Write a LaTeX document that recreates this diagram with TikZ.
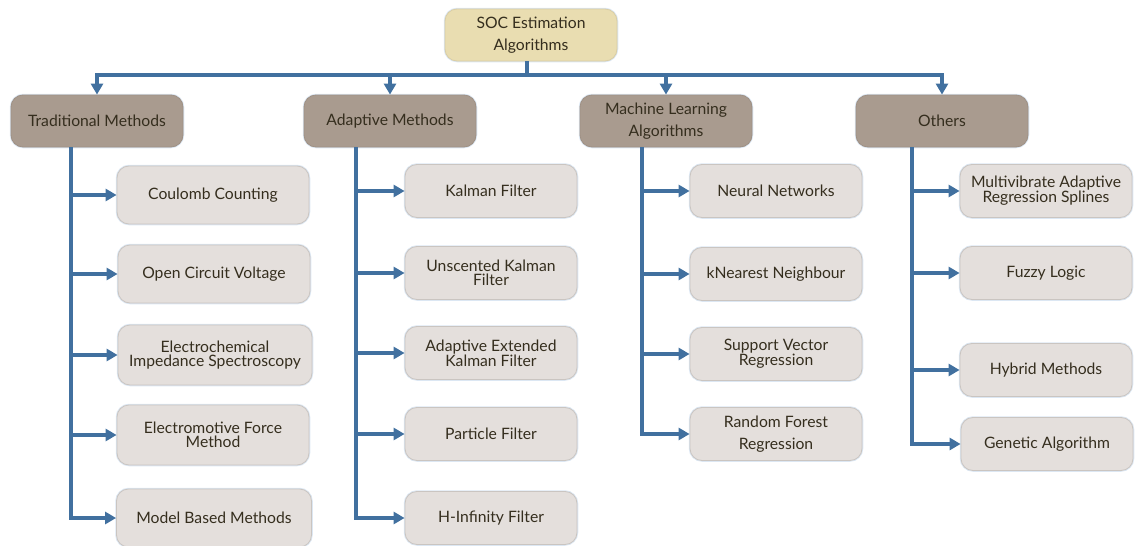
\documentclass[tikz,border=0pt]{standalone}
\usepackage{fontspec}
\setmainfont{Lato}
\usetikzlibrary{arrows.meta}
\definecolor{rootfill}{HTML}{E9DDB1}
\definecolor{rootline}{HTML}{D9CDA5}
\definecolor{catfill}{HTML}{A99B8F}
\definecolor{catline}{HTML}{9E9084}
\definecolor{leaffill}{HTML}{E4DFDC}
\definecolor{leafline}{HTML}{CAC5C1}
\definecolor{txt}{HTML}{352E1E}
\definecolor{link}{HTML}{41709F}
\definecolor{glow}{HTML}{DCE7F3}
\tikzset{
  base/.style={rounded corners=12pt, align=center, text=txt, inner sep=2pt,
    font=\fontsize{15.7}{22}\selectfont,
    preaction={draw=glow, line width=2.5pt}},
  tight/.style={font=\fontsize{15.7}{14}\selectfont},
  rootbox/.style={base, fill=rootfill, draw=rootline, line width=0.8pt, minimum width=172pt, minimum height=52pt},
  catbox/.style={base, fill=catfill, draw=catline, line width=0.8pt, minimum width=172pt, minimum height=52pt},
  leafbox/.style={base, fill=leaffill, draw=leafline, line width=0.8pt, minimum width=172pt, minimum height=53pt},
  bigleaf/.style={leafbox, minimum width=192pt, minimum height=58pt},
  lnk/.style={draw=link, line width=3.5pt},
  arr/.style={lnk, -{Triangle[length=11pt, width=12pt]}, shorten >=0pt}
}
\begin{document}
\begin{tikzpicture}[x=1pt, y=1pt]
\useasboundingbox (0,0) rectangle (1136,-546);

% root
\node[rootbox] (root) at (531,-35) {SOC Estimation\\Algorithms};

% categories
\node[catbox] (c1) at (97,-121) {Traditional Methods};
\node[catbox] (c2) at (390,-121) {Adaptive Methods};
\node[catbox] (c3) at (666,-121) {Machine Learning\\Algorithms};
\node[catbox] (c4) at (942,-121) {Others};

% leaves: traditional
\node[bigleaf] (t1) at (213,-195) {Coulomb Counting};
\node[bigleaf] (t2) at (214,-274) {Open Circuit Voltage};
\node[bigleaf, tight, minimum width=194pt, minimum height=60pt] (t3) at (215,-355) {Electrochemical\\Impedance Spectroscopy};
\node[bigleaf, tight, minimum height=60pt] (t4) at (213,-435) {Electromotive Force\\Method};
\node[bigleaf, minimum width=195pt] (t5) at (214,-518) {Model Based Methods};

% leaves: adaptive
\node[leafbox] (a1) at (491,-191) {Kalman Filter};
\node[leafbox, tight] (a2) at (491,-273) {Unscented Kalman\\Filter};
\node[leafbox, tight] (a3) at (491,-353) {Adaptive Extended\\Kalman Filter};
\node[leafbox] (a4) at (491,-434) {Particle Filter};
\node[leafbox] (a5) at (491,-518) {H-Infinity Filter};

% leaves: machine learning
\node[leafbox] (m1) at (776,-191) {Neural Networks};
\node[leafbox] (m2) at (776,-274) {kNearest Neighbour};
\node[leafbox, tight] (m3) at (776,-354) {Support Vector\\Regression};
\node[leafbox] (m4) at (776,-434) {Random Forest\\Regression};

% leaves: others
\node[leafbox, tight] (o1) at (1046,-191) {Multivibrate Adaptive\\Regression Splines};
\node[leafbox] (o2) at (1046,-273) {Fuzzy Logic};
\node[leafbox] (o3) at (1046,-370) {Hybrid Methods};
\node[leafbox] (o4) at (1047,-444) {Genetic Algorithm};

% top bus
\coordinate (bus) at (527,-75);
\draw[lnk] (root.south -| bus) -- (bus);
\draw[arr] (bus) -| (c1.north);
\draw[arr] (bus) -| (c2.north);
\draw[arr] (bus) -| (c3.north);
\draw[arr] (bus) -| (c4.north);

% trunks
\coordinate (k1) at (71,-147);
\coordinate (k2) at (356,-147);
\coordinate (k3) at (642,-147);
\coordinate (k4) at (912,-147);

\draw[arr] (k1) |- (t5.west);
\foreach \n in {t1,t2,t3,t4} \draw[arr] (k1 |- \n.west) -- (\n.west);

\draw[arr] (k2) |- (a5.west);
\foreach \n in {a1,a2,a3,a4} \draw[arr] (k2 |- \n.west) -- (\n.west);

\draw[arr] (k3) |- (m4.west);
\foreach \n in {m1,m2,m3} \draw[arr] (k3 |- \n.west) -- (\n.west);

\draw[arr] (k4) |- (o4.west);
\foreach \n in {o1,o2,o3} \draw[arr] (k4 |- \n.west) -- (\n.west);
\end{tikzpicture}
\end{document}
